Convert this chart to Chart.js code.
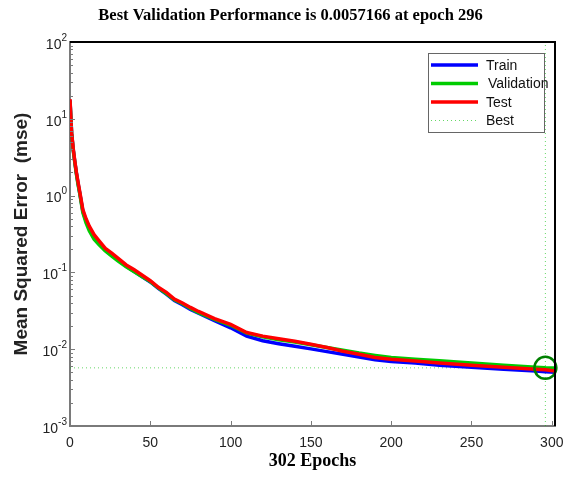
<!DOCTYPE html>
<html>
<head>
<meta charset="utf-8">
<script src="https://cdn.jsdelivr.net/npm/chart.js@4.4.0/dist/chart.umd.min.js"></script>
<style>
  html, body { margin: 0; padding: 0; background: #fff; }
</style>
</head>
<body>
<canvas id="perfChart" width="571" height="480"></canvas>
<script>
// values (mse per epoch)
const epochs = [0, 1, 2, 3, 4, 5, 6, 8, 10, 12, 15, 18, 22, 26, 30, 35, 40, 45, 50, 55, 60, 65, 70, 75, 80, 90,
  100, 110, 120, 130, 140, 150, 160, 170, 180, 190, 200, 215, 230, 250, 270, 290, 296, 302]
const trainMse = [17.5, 6.5, 4.0, 2.75, 1.95, 1.45, 1.1, 0.63, 0.47, 0.38, 0.29, 0.245, 0.195, 0.168, 0.145, 0.12, 0.103, 0.088, 0.075, 0.062, 0.052, 0.043, 0.038, 0.033, 0.0295, 0.0235,
  0.019, 0.0148, 0.0129, 0.0118, 0.0109, 0.0101, 0.0093, 0.0086, 0.0079, 0.0073, 0.0069, 0.0066, 0.0062, 0.0058, 0.0055, 0.0052, 0.0051, 0.0050]
const valMse = [17, 6.4, 3.9, 2.7, 1.9, 1.4, 1.08, 0.6, 0.44, 0.35, 0.27, 0.23, 0.19, 0.163, 0.14, 0.118, 0.102, 0.088, 0.076, 0.063, 0.053, 0.044, 0.039, 0.034, 0.030, 0.0245,
  0.0205, 0.0162, 0.0145, 0.0133, 0.0124, 0.0114, 0.0105, 0.0097, 0.0089, 0.0083, 0.0078, 0.0074, 0.0071, 0.0066, 0.0062, 0.0058, 0.0057166, 0.0057]
const testMse = [18, 6.6, 4.1, 2.8, 2.0, 1.5, 1.15, 0.66, 0.5, 0.4, 0.31, 0.26, 0.205, 0.178, 0.152, 0.125, 0.108, 0.092, 0.078, 0.064, 0.055, 0.045, 0.040, 0.035, 0.031, 0.025,
  0.021, 0.0165, 0.0148, 0.0137, 0.0127, 0.0116, 0.0105, 0.0094, 0.0086, 0.0078, 0.0074, 0.0070, 0.0066, 0.0062, 0.0058, 0.0055, 0.0054, 0.0052]

const bestEpoch = 296
const bestPerf = 0.0057166
const epochCount = 302

const xTicks = [0, 50, 100, 150, 200, 250, 300]
const yTicks = [1e-3, 1e-2, 1e-1, 1, 10, 100]
const yTickExponents = ['-3', '-2', '-1', '0', '1', '2']

const legendNames = ['Train', 'Validation', 'Test', 'Best']

const toPoints = arr => epochs.map((e, i) => ({ x: e, y: arr[i] }))

const axisGray = '#7a7a7a'
const sans = '"Liberation Sans", Arial, sans-serif'
const serif = '"Liberation Serif", "Times New Roman", serif'

// inward tick marks, 10^n labels, black top/right box and the legend box
const boxPlugin = {
  id: 'boxPlugin',
  afterDraw(chart) {
    const { ctx, chartArea: a, scales } = chart
    const xs = scales.x, ys = scales.y
    ctx.save()
    ctx.strokeStyle = axisGray
    ctx.lineWidth = 1
    ctx.beginPath()
    xTicks.forEach(v => {
      const px = Math.round(xs.getPixelForValue(v)) + 0.5
      ctx.moveTo(px, a.bottom)
      ctx.lineTo(px, a.bottom - 5)
    })
    for (let e = -3; e <= 1; e++) {
      for (let m = 1; m <= 9; m++) {
        const py = Math.round(ys.getPixelForValue(m * Math.pow(10, e))) + 0.5
        ctx.moveTo(a.left, py)
        ctx.lineTo(a.left + (m == 1 ? 5 : 3), py)
      }
    }
    const pTop = Math.round(ys.getPixelForValue(100)) + 0.5
    ctx.moveTo(a.left, pTop)
    ctx.lineTo(a.left + 5, pTop)
    ctx.stroke()

    // y labels as 10 with a raised exponent
    ctx.fillStyle = '#222'
    ctx.textBaseline = 'middle'
    yTicks.forEach((v, i) => {
      const py = ys.getPixelForValue(v)
      const xEnd = a.left - 3
      ctx.font = '10px ' + sans
      const we = ctx.measureText(yTickExponents[i]).width
      ctx.textAlign = 'left'
      ctx.fillText(yTickExponents[i], xEnd - we, py - 4)
      ctx.font = '14px ' + sans
      ctx.textAlign = 'right'
      ctx.fillText('10', xEnd - we, py + 3)
    })

    // top and right black borders
    ctx.strokeStyle = '#000'
    ctx.lineWidth = 2
    ctx.beginPath()
    ctx.moveTo(a.left, a.top)
    ctx.lineTo(a.right, a.top)
    ctx.lineTo(a.right, a.bottom)
    ctx.stroke()

    // legend
    const lx = 428, ly = 53, lw = 116, lh = 79
    ctx.fillStyle = '#fff'
    ctx.fillRect(lx, ly, lw, lh)
    ctx.strokeStyle = '#666'
    ctx.lineWidth = 1
    ctx.strokeRect(lx + 0.5, ly + 0.5, lw, lh)
    ctx.font = '14px ' + sans
    ctx.textBaseline = 'middle'
    ctx.textAlign = 'left'
    const rows = [65, 83.5, 102, 120.5]
    for (let i = 0; i < 4; i++) {
      const ds = chart.data.datasets[i]
      ctx.strokeStyle = ds.borderColor
      ctx.lineWidth = ds.borderWidth
      ctx.setLineDash(ds.borderDash || [])
      ctx.beginPath()
      ctx.moveTo(431, rows[i])
      ctx.lineTo(478, rows[i])
      ctx.stroke()
      ctx.setLineDash([])
      ctx.fillStyle = '#111'
      ctx.fillText(legendNames[i], i == 1 ? 488 : 486, rows[i] + 1)
    }
    ctx.restore()
  }
}

const lineBase = { showLine: true, pointRadius: 0, borderWidth: 3.5, tension: 0 }

new Chart(document.getElementById('perfChart'), {
  type: 'scatter',
  data: {
    datasets: [
      { ...lineBase, label: 'Train', data: toPoints(trainMse), borderColor: '#0000ff', order: 3 },
      { ...lineBase, label: 'Validation', data: toPoints(valMse), borderColor: '#00cc00', order: 2 },
      { ...lineBase, label: 'Test', data: toPoints(testMse), borderColor: '#ff0000', order: 1 },
      {
        label: 'Best', showLine: true, pointRadius: 0, borderWidth: 1, borderDash: [1, 3],
        borderColor: 'rgba(0,190,0,0.6)', order: 4,
        data: [{ x: 0, y: bestPerf }, { x: epochCount, y: bestPerf }]
      },
      {
        label: 'BestV', showLine: true, pointRadius: 0, borderWidth: 1, borderDash: [1, 3],
        borderColor: 'rgba(0,190,0,0.6)', order: 5,
        data: [{ x: bestEpoch, y: 1e-3 }, { x: bestEpoch, y: 100 }]
      },
      {
        label: 'BestPoint', showLine: false, pointRadius: 11, pointBorderWidth: 2.5,
        pointBackgroundColor: 'rgba(0,0,0,0)', pointBorderColor: '#008000', order: 0, clip: false,
        data: [{ x: bestEpoch, y: bestPerf }]
      }
    ]
  },
  options: {
    responsive: false,
    devicePixelRatio: 1,
    animation: false,
    layout: { padding: { left: 26, right: 16, top: 0, bottom: 0 } },
    plugins: {
      legend: { display: false },
      tooltip: { enabled: false },
      title: {
        display: true,
        text: 'Best Validation Performance is 0.0057166 at epoch 296',
        color: '#000',
        font: { family: serif, size: 16.5, weight: 'bold' },
        padding: { top: 6, bottom: 16.2 }
      }
    },
    scales: {
      x: {
        type: 'linear',
        min: 0,
        max: epochCount,
        afterBuildTicks: s => { s.ticks = xTicks.map(v => ({ value: v })) },
        afterFit: s => { s.height = 54; s.paddingRight = 0 },
        grid: { display: false, drawTicks: false },
        border: { color: axisGray, width: 2 },
        ticks: {
          padding: 9,
          color: '#222',
          font: { family: sans, size: 14 }
        },
        title: {
          display: true,
          text: '302 Epochs',
          color: '#000',
          font: { family: serif, size: 18, weight: 'bold' },
          padding: { top: 0, bottom: 8 }
        }
      },
      y: {
        type: 'logarithmic',
        min: 1e-3,
        max: 100,
        afterBuildTicks: s => { s.ticks = yTicks.map(v => ({ value: v })) },
        afterFit: s => { s.width = 44 },
        grid: { display: false, drawTicks: false },
        border: { color: axisGray, width: 2 },
        ticks: { display: false },
        title: {
          display: true,
          text: 'Mean Squared Error  (mse)',
          color: '#222',
          font: { family: sans, size: 19, weight: 'bold' },
          padding: { top: -15.4, bottom: 0 }
        }
      }
    }
  },
  plugins: [boxPlugin]
})
</script>
</body>
</html>
